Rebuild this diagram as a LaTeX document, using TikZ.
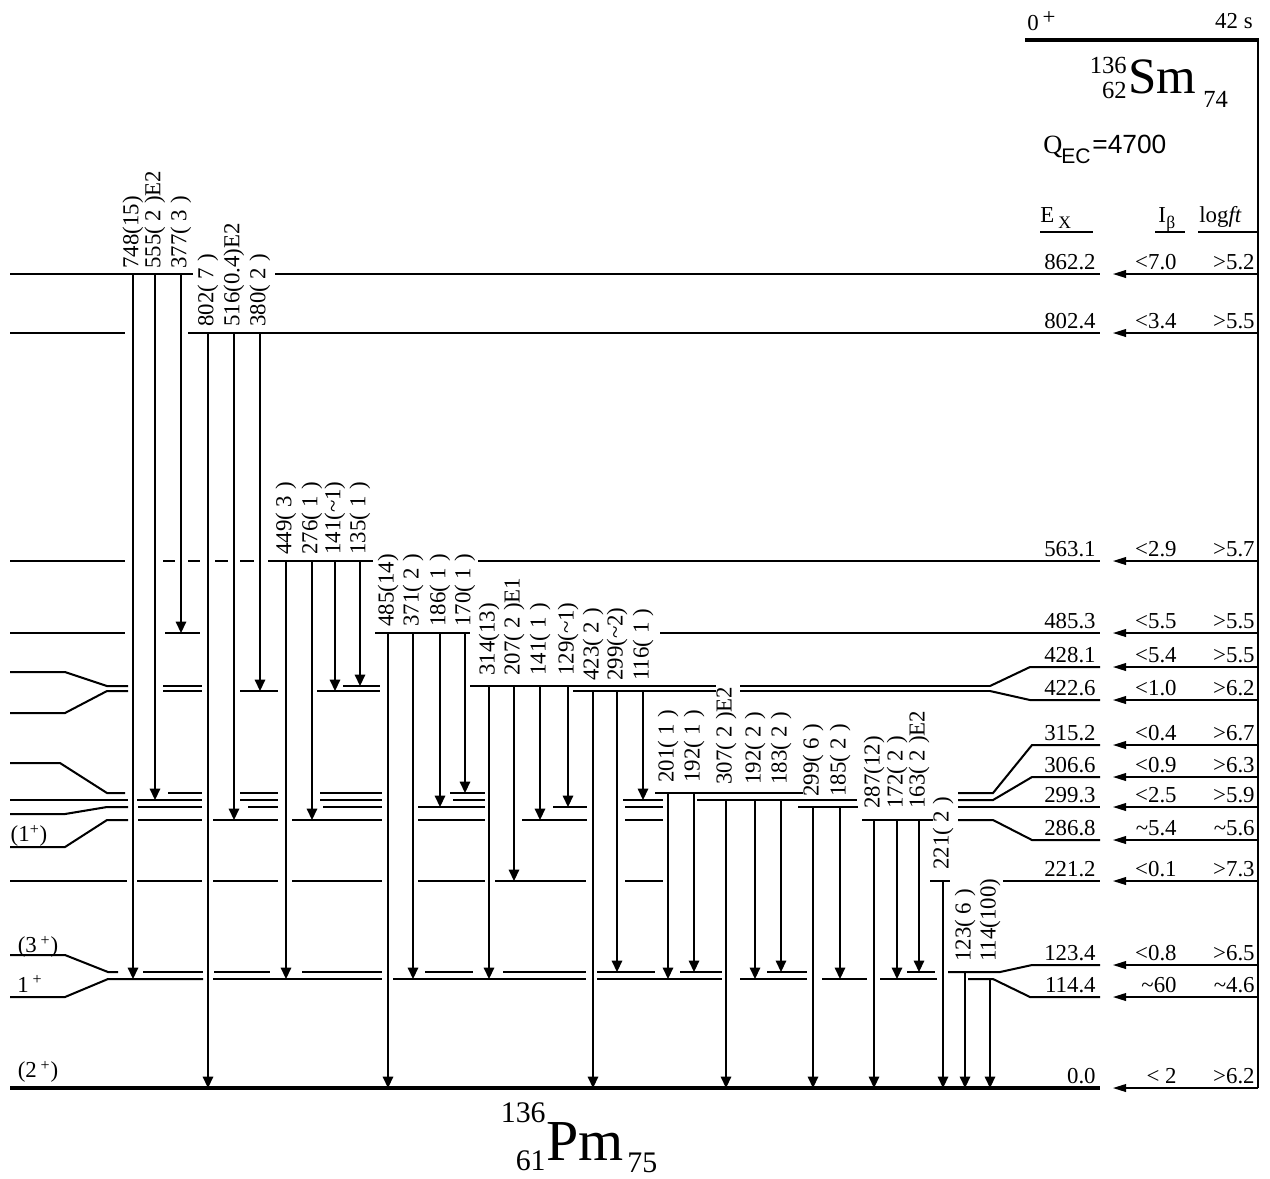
\documentclass[tikz,border=0pt]{standalone}
\usepackage{fontspec}
\setmainfont{Liberation Serif}
\newfontfamily\sansf{Liberation Sans}
\usetikzlibrary{arrows.meta}
\newcommand\lv[2]{\foreach \a/\b in {#2}{\draw[lvl] (\a,#1) -- (\b,#1);}}
\newcommand\gm[5]{\draw[gam] (#1,#2) -- (#1,#3); \node[glab] (g#1) at (#1,#4) {#5};}
\newcommand\rt[5]{%
 \node[rlab] (ex#5) at (1096,#1-5) {#2};
 \node[rlab] (ib#5) at (1177,#1-5) {#3};
 \node[rlab] (lf#5) at (1255,#1-5) {#4};
 \draw[bet] (1258,#1) -- (1113,#1);}
\begin{document}
\begin{tikzpicture}[x=0.02cm,y=-0.02cm,
  lvl/.style={line width=1.15pt},
  gs/.style={line width=2.8pt},
  gam/.style={line width=0.75pt,-{Triangle[length=6.5pt,width=6pt]}},
  bet/.style={line width=0.75pt,-{Triangle[length=7.5pt,width=4.5pt]}},
  glab/.style={rotate=90,anchor=west,inner sep=0pt,font=\fontsize{13}{15}\selectfont},
  rlab/.style={anchor=base east,inner sep=0pt,font=\fontsize{13}{15}\selectfont},
  txt/.style={inner sep=0pt,font=\fontsize{13}{15}\selectfont}]
\useasboundingbox (0,0) rectangle (1270,1178);

% ---------------- parent 136Sm ----------------
\draw[gs] (1025,40) -- (1259,40);
\draw[line width=0.7pt] (1258,40) -- (1258,1088);
\node[txt,anchor=base west] (sp0) at (1027,30) {0\,\raisebox{0.5ex}{+}};
\node[txt,anchor=base east] (hl) at (1253,28) {42 s};
\node[inner sep=0pt,anchor=base east,font=\fontsize{14}{16}\selectfont] (smA) at (1127,73) {136};
\node[inner sep=0pt,anchor=base east,font=\fontsize{14}{16}\selectfont] (smZ) at (1127,98) {62};
\node[inner sep=0pt,anchor=base west,font=\fontsize{29}{32}\selectfont] (sm) at (1128,93) {Sm};
\node[inner sep=0pt,anchor=base west,font=\fontsize{14}{16}\selectfont] (smN) at (1203,107) {74};
\node[inner sep=0pt,anchor=base west,font=\fontsize{15}{17}\selectfont] (q) at (1043,153) {Q};
\node[inner sep=0pt,anchor=base west,font=\sansf\fontsize{12}{14}\selectfont] (qec) at (1061,163) {EC};
\node[inner sep=0pt,anchor=base west,font=\sansf\fontsize{15}{17}\selectfont] (qv) at (1092,153) {=4700};

% headers
\node[txt,anchor=base west] (hE) at (1040,222) {E};
\node[inner sep=0pt,anchor=base west,font=\fontsize{10}{12}\selectfont] (hX) at (1058,228) {X};
\draw[line width=0.7pt] (1040,232) -- (1093,232);
\node[txt,anchor=base west] (hI) at (1158,222) {I};
\node[inner sep=0pt,anchor=base west,font=\fontsize{10}{12}\selectfont] (hb) at (1166,228) {β};
\draw[line width=0.7pt] (1155,232) -- (1185,232);
\node[txt,anchor=base west] (hL) at (1199,222) {log\textit{ft}};
\draw[line width=0.7pt] (1198,232) -- (1257,232);

% ---------------- levels of 136Pm ----------------
% 862.2
\lv{274}{10/193, 275/1100}
% 802.4
\lv{333}{10/125, 188/1100}
% 563.1
\lv{561}{10/125, 163/175, 188/200, 215/228, 240/254, 268/373, 478/1100}
% 485.3
\lv{633}{10/125, 165/200, 375/470, 660/1100}
% 428.1
\draw[lvl] (10,672)--(65,672)--(107,686)--(128,686);
\lv{686}{163/202, 343/380, 470/716, 740/990}
\draw[lvl] (990,686)--(1030,667)--(1100,667);
% 422.6
\draw[lvl] (10,713)--(65,713)--(107,691)--(128,691);
\lv{691}{163/202, 240/278, 317/380, 573/716, 740/990}
\draw[lvl] (990,691)--(1030,700)--(1100,700);
% 315.2
\draw[lvl] (10,763)--(60,763)--(107,793)--(125,793);
\lv{793}{168/202, 240/278, 320/382, 450/485, 655/803}
\draw[lvl] (958,793)--(993,793)--(1032,745)--(1100,745);
% 306.6
\lv{800}{10/128, 137/202, 240/278, 320/382, 453/485, 623/663, 697/857}
\draw[lvl] (958,800)--(993,800)--(1032,777)--(1100,777);
% 299.3
\draw[lvl] (10,814)--(65,814)--(107,807)--(128,807);
\lv{807}{138/202, 248/278, 323/382, 418/485, 553/587, 625/663, 798/858, 958/1100}
% 286.8
\draw[lvl] (10,847)--(65,847)--(107,820)--(128,820);
\lv{820}{138/202, 213/278, 292/382, 418/485, 522/587, 625/663, 862/933}
\draw[lvl] (958,820)--(993,820)--(1032,840)--(1100,840);
% 221.2
\lv{881}{10/127, 137/202, 213/278, 292/382, 418/485, 495/586, 625/663, 930/950, 1003/1100}
% 123.4
\draw[lvl] (10,955)--(65,955)--(108,972)--(118,972);
\lv{972}{143/203, 214/270, 302/382, 425/473, 503/586, 597/655, 680/722, 767/807, 907/935}
\draw[lvl] (948,972)--(1000,972)--(1032,965)--(1100,965);
% 114.4
\draw[lvl] (10,997)--(65,997)--(108,979)--(203,979);
\lv{979}{213/382, 393/586, 597/722, 740/807, 822/867, 880/937}
\draw[lvl] (968,979)--(993,979)--(1030,997)--(1100,997);
% 0.0
\draw[gs] (10,1088) -- (1100,1088);

% spins
\node[txt] (s1) at (29,836) {(1\textsuperscript{+})};
\node[txt] (s3) at (38,947) {(3\,\textsuperscript{+})};
\node[txt] (s1b) at (30,984) {1\,\textsuperscript{+}};
\node[txt] (s2) at (38,1072) {(2\,\textsuperscript{+})};

% ---------------- gamma transitions ----------------
\gm{133}{274}{979}{269}{748(15)}
\gm{155}{274}{800}{269}{555(~2~)E2}
\gm{181}{274}{633}{269}{377(~3~)}
\gm{208}{333}{1088}{327}{802(~7~)}
\gm{234}{333}{820}{327}{516(0.4)E2}
\gm{260}{333}{691}{327}{380(~2~)}
\gm{286}{561}{979}{555}{449(~3~)}
\gm{312}{561}{820}{555}{276(~1~)}
\gm{335}{561}{691}{555}{141(\textasciitilde1)}
\gm{360}{561}{686}{555}{135(~1~)}
\gm{388}{633}{1088}{627}{485(14)}
\gm{413}{633}{979}{627}{371(~2~)}
\gm{440}{633}{807}{627}{186(~1~)}
\gm{465}{633}{793}{627}{170(~1~)}
\gm{489}{686}{979}{676}{314(13)}
\gm{514}{686}{881}{676}{207(~2~)E1}
\gm{540}{686}{820}{676}{141(~1~)}
\gm{568}{686}{807}{676}{129(\textasciitilde1)}
\gm{593}{691}{1088}{681}{423(~2~)}
\gm{617}{691}{972}{681}{299(\textasciitilde2)}
\gm{643}{691}{800}{681}{116(~1~)}
\gm{668}{793}{979}{783}{201(~1~)}
\gm{694}{793}{972}{783}{192(~1~)}
\gm{726}{800}{1088}{785}{307(~2~)E2}
\gm{755}{800}{979}{785}{192(~2~)}
\gm{781}{800}{972}{785}{183(~2~)}
\gm{813}{807}{1088}{797}{299(~6~)}
\gm{840}{807}{979}{797}{185(~2~)}
\gm{874}{820}{1088}{809}{287(12)}
\gm{897}{820}{979}{809}{172(~2~)}
\gm{919}{820}{972}{809}{163(~2~)E2}
\gm{943}{881}{1088}{870}{221(~2~)}
\gm{965}{972}{1088}{962}{123(~6~)}
\gm{990}{979}{1088}{962}{114(100)}

% ---------------- right table and beta feeding ----------------
\rt{274}{862.2}{<7.0}{>5.2}{a}
\rt{333}{802.4}{<3.4}{>5.5}{b}
\rt{561}{563.1}{<2.9}{>5.7}{c}
\rt{633}{485.3}{<5.5}{>5.5}{d}
\rt{667}{428.1}{<5.4}{>5.5}{e}
\rt{700}{422.6}{<1.0}{>6.2}{f}
\rt{745}{315.2}{<0.4}{>6.7}{g}
\rt{777}{306.6}{<0.9}{>6.3}{h}
\rt{807}{299.3}{<2.5}{>5.9}{i}
\rt{840}{286.8}{\textasciitilde5.4}{\textasciitilde5.6}{j}
\rt{881}{221.2}{<0.1}{>7.3}{k}
\rt{965}{123.4}{<0.8}{>6.5}{l}
\rt{997}{114.4}{\textasciitilde60}{\textasciitilde4.6}{m}
\rt{1088}{0.0}{< 2}{>6.2}{n}

% ---------------- daughter label ----------------
\node[inner sep=0pt,anchor=base east,font=\fontsize{17}{19}\selectfont] (pmA) at (546,1122) {136};
\node[inner sep=0pt,anchor=base east,font=\fontsize{17}{19}\selectfont] (pmZ) at (546,1170) {61};
\node[inner sep=0pt,anchor=base west,font=\fontsize{33}{36}\selectfont] (pm) at (546,1160) {Pm};
\node[inner sep=0pt,anchor=base west,font=\fontsize{17}{19}\selectfont] (pmN) at (627,1172) {75};
\end{tikzpicture}
\end{document}
